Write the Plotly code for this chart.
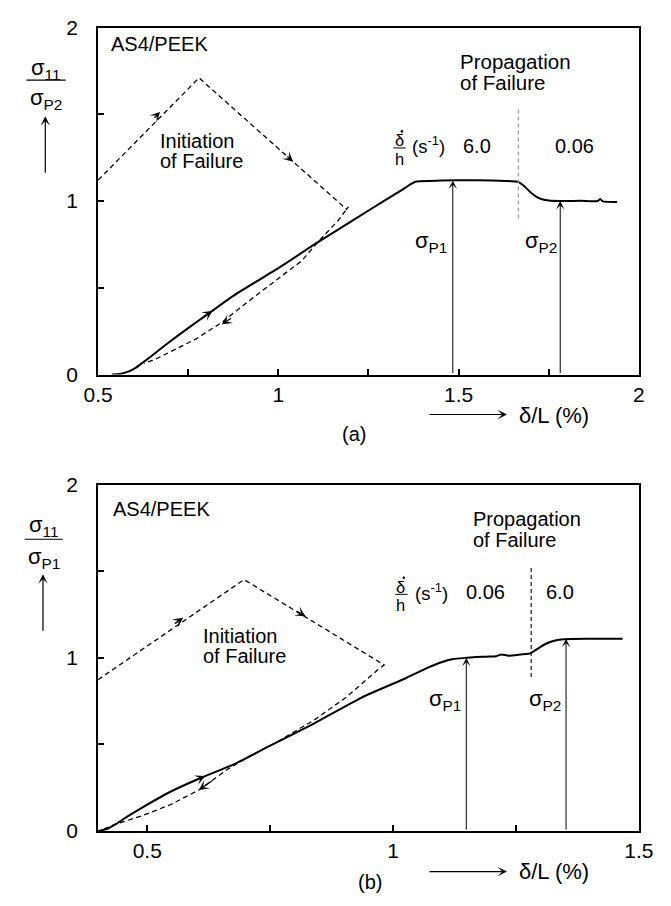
import plotly.graph_objects as go

W, H = 671, 906
FONT = "Liberation Sans, Arial, Helvetica, sans-serif"

# ---------------- data: panel (a) ----------------
a_solid_x = [0.538, 0.56, 0.587, 0.605, 0.622, 0.65, 0.693, 0.746, 0.812, 0.879, 1.011, 1.1, 1.2, 1.3,
             1.34, 1.365, 1.383, 1.45, 1.55, 1.63, 1.666, 1.68, 1.70, 1.72, 1.74, 1.78, 1.84, 1.885,
             1.893, 1.90, 1.94]
a_solid_y = [0.0, 0.003, 0.02, 0.04, 0.066, 0.11, 0.18, 0.262, 0.36, 0.459, 0.628, 0.75, 0.88, 1.01,
             1.06, 1.095, 1.113, 1.118, 1.12, 1.116, 1.11, 1.09, 1.05, 1.02, 1.006, 1.0, 1.002, 1.0,
             1.012, 0.998, 0.995]
a_dash_x = [0.5, 0.78, 1.189, 1.194, 1.166, 1.115, 1.064, 1.011, 0.975, 0.905, 0.843, 0.772, 0.711,
            0.657, 0.627]
a_dash_y = [1.121, 1.71, 0.953, 0.966, 0.888, 0.776, 0.654, 0.571, 0.515, 0.403, 0.30, 0.206, 0.142,
            0.086, 0.066]
a_rate_x = [1.666, 1.666]
a_rate_y = [0.9, 1.54]
a_peak_x = [1.484, 1.782]          # sigma_P1, sigma_P2
a_peak_y = [1.118, 1.0]
a_xticks = [0.5, 0.75, 1.0, 1.25, 1.5, 1.75, 2.0]
a_xtext = ["0.5", "", "1", "", "1.5", "", "2"]

# ---------------- data: panel (b) ----------------
b_solid_x = [0.40, 0.42, 0.436, 0.46, 0.488, 0.547, 0.605, 0.677, 0.748, 0.839, 0.936, 1.027, 1.07,
             1.10, 1.12, 1.146, 1.19, 1.21, 1.22, 1.235, 1.26, 1.279, 1.29, 1.31, 1.33, 1.347, 1.40,
             1.467]
b_solid_y = [0.0, 0.015, 0.04, 0.085, 0.133, 0.227, 0.302, 0.387, 0.49, 0.621, 0.771, 0.884, 0.942,
             0.976, 0.992, 1.0, 1.007, 1.01, 1.02, 1.013, 1.02, 1.026, 1.045, 1.08, 1.1, 1.108, 1.11,
             1.11]
b_dash_x = [0.40, 0.697, 0.982, 0.969, 0.904, 0.839, 0.80, 0.761, 0.709, 0.664, 0.605, 0.547, 0.488,
            0.436, 0.41]
b_dash_y = [0.874, 1.452, 0.959, 0.931, 0.771, 0.64, 0.575, 0.509, 0.434, 0.358, 0.237, 0.152, 0.087,
            0.04, 0.01]
b_rate_x = [1.281, 1.281]
b_rate_y = [0.89, 1.533]
b_peak_x = [1.149, 1.352]
b_peak_y = [1.0, 1.11]
b_xticks = [0.5, 0.75, 1.0, 1.25, 1.5]
b_xtext = ["0.5", "", "1", "", "1.5"]

yticks = [0, 0.5, 1, 1.5, 2]
ytext = ["0", "", "1", "", "2"]

# arrowheads along curves: (head x, head y, tail x, tail y)
a_curve_arrows = [(0.672, 1.514, 0.652, 1.472), (1.041, 1.227, 1.021, 1.264),
                  (0.843, 0.29, 0.873, 0.33), (0.817, 0.367, 0.787, 0.325)]
b_curve_arrows = [(0.573, 1.231, 0.553, 1.192), (0.822, 1.240, 0.802, 1.274),
                  (0.605, 0.237, 0.635, 0.297), (0.618, 0.318, 0.588, 0.280)]


def P(px, py):
    return px / W, 1 - py / H


fig = go.Figure()
solid = dict(color="black", width=2)
dash = dict(color="black", width=1.3, dash="5px,3.5px")

fig.add_trace(go.Scatter(x=a_dash_x, y=a_dash_y, mode="lines", line=dash, xaxis="x", yaxis="y"))
fig.add_trace(go.Scatter(x=a_solid_x, y=a_solid_y, mode="lines", line=dict(solid, shape="spline", smoothing=0.5),
                         xaxis="x", yaxis="y"))
fig.add_trace(go.Scatter(x=a_rate_x, y=a_rate_y, mode="lines",
                         line=dict(color="#999999", width=1.3, dash="4px,3px"), xaxis="x", yaxis="y"))
fig.add_trace(go.Scatter(x=b_dash_x, y=b_dash_y, mode="lines", line=dash, xaxis="x2", yaxis="y2"))
fig.add_trace(go.Scatter(x=b_solid_x, y=b_solid_y, mode="lines", line=dict(solid, shape="spline", smoothing=0.5),
                         xaxis="x2", yaxis="y2"))
fig.add_trace(go.Scatter(x=b_rate_x, y=b_rate_y, mode="lines",
                         line=dict(color="black", width=1.1, dash="4px,3px"), xaxis="x2", yaxis="y2"))

ann = []
shapes = []


def text(px, py, s, size=20, xanchor="center"):
    x, y = P(px, py)
    ann.append(dict(x=x, y=y, xref="paper", yref="paper", text=s, showarrow=False,
                    font=dict(size=size, color="black", family=FONT),
                    xanchor=xanchor, yanchor="middle"))


def line_px(x0, y0, x1, y1, w=1.2):
    a0, b0 = P(x0, y0)
    a1, b1 = P(x1, y1)
    shapes.append(dict(type="line", xref="paper", yref="paper", x0=a0, y0=b0, x1=a1, y1=b1,
                       line=dict(color="black", width=w)))


def dot_px(cx, cy, r=1.3):
    a0, b0 = P(cx - r, cy + r)
    a1, b1 = P(cx + r, cy - r)
    shapes.append(dict(type="circle", xref="paper", yref="paper", x0=a0, y0=b0, x1=a1, y1=b1,
                       fillcolor="black", line=dict(color="black", width=0)))


def data_arrow(hx, hy, tx, ty, xr, yr, width=1.3, size=1.3):
    ann.append(dict(x=hx, y=hy, ax=tx, ay=ty, xref=xr, yref=yr, axref=xr, ayref=yr, text="",
                    showarrow=True, arrowhead=3, arrowsize=size, arrowwidth=width,
                    arrowcolor="black", standoff=0))


def px_arrow(hx, hy, dx, dy):
    x, y = P(hx, hy)
    ann.append(dict(x=x, y=y, xref="paper", yref="paper", ax=dx, ay=dy, text="",
                    showarrow=True, arrowhead=3, arrowsize=1.3, arrowwidth=1.2,
                    arrowcolor="black", standoff=0))


# curve arrowheads
for hx, hy, tx, ty in a_curve_arrows:
    data_arrow(hx, hy, tx, ty, "x", "y")
for hx, hy, tx, ty in b_curve_arrows:
    data_arrow(hx, hy, tx, ty, "x2", "y2")
# peak arrows
for x, y in zip(a_peak_x, a_peak_y):
    data_arrow(x, y, x, 0, "x", "y", width=1, size=1.4)
for x, y in zip(b_peak_x, b_peak_y):
    data_arrow(x, y, x, 0, "x2", "y2", width=1, size=1.4)

# ---- panel (a) texts ----
text(98, 33, "AS4/PEEK", 20, "left")
text(464, 51, "Propagation", 20.5, "left")
text(464, 72, "of Failure", 20.5, "left")
text(150, 132, "Initiation", 20, "left")
text(150, 153, "of Failure", 20, "left")
text(402, 131.5, "δ", 16.5)
dot_px(405, 122.5)
line_px(396, 139.5, 409, 139.5, 1)
text(402, 150.5, "h", 16.5)
text(414, 136, "(s<sup>-1</sup>)", 18.5, "left")
text(484, 137, "6.0", 20)
text(586, 137, "0.06", 20)
text(417, 236, "σ<sub>P1</sub>", 22, "left")
text(532, 236, "σ<sub>P2</sub>", 22, "left")
# y label (a)
text(32, 58, "σ<sub>11</sub>", 22)
line_px(12, 70, 53, 70, 1.2)
text(32, 89, "σ<sub>P2</sub>", 22)
px_arrow(31.7, 107, 0, 58)
# x label (a)
text(525, 414, "δ/L (%)", 22, "left")
px_arrow(515, 413, -79, 0)
text(355, 433, "(a)", 20)

# ---- panel (b) texts ----
text(101, 510, "AS4/PEEK", 20, "left")
text(477, 520, "Propagation", 20, "left")
text(477, 541.5, "of Failure", 20, "left")
text(195, 640, "Initiation", 20, "left")
text(195, 661, "of Failure", 20, "left")
text(404, 589.5, "δ", 16.5)
dot_px(407, 580.5)
line_px(398, 597.5, 411, 597.5, 1)
text(404, 608.5, "h", 16.5)
text(417, 595, "(s<sup>-1</sup>)", 18.5, "left")
text(492, 595, "0.06", 20)
text(570, 595, "6.0", 20)
text(431, 706, "σ<sub>P1</sub>", 22, "left")
text(536, 706, "σ<sub>P2</sub>", 22, "left")
# y label (b)
text(30, 527, "σ<sub>11</sub>", 22)
line_px(10, 541, 50, 541, 1.2)
text(30, 560, "σ<sub>P1</sub>", 22)
px_arrow(29.3, 577, 0, 58)
# x label (b)
text(525, 882, "δ/L (%)", 22, "left")
px_arrow(515, 882, -79, 0)
text(372, 893, "(b)", 20)

axis_common = dict(showline=True, mirror=True, linecolor="black", linewidth=2, ticks="inside",
                   ticklen=6, tickwidth=1.5, tickcolor="black", showgrid=False, zeroline=False,
                   tickfont=dict(size=21, color="black", family=FONT))

fig.update_layout(
    width=W, height=H, margin=dict(l=0, r=0, t=0, b=0),
    paper_bgcolor="white", plot_bgcolor="white", showlegend=False,
    xaxis=dict(domain=[87 / W, 653 / W], range=[0.5, 2.0], anchor="y",
               tickmode="array", tickvals=a_xticks, ticktext=a_xtext, **axis_common),
    yaxis=dict(domain=[1 - 372 / H, 1 - 16 / H], range=[0, 2], anchor="x",
               tickmode="array", tickvals=yticks, ticktext=ytext, ticklabelstandoff=14, **axis_common),
    xaxis2=dict(domain=[87 / W, 653 / W], range=[0.4, 1.5], anchor="y2",
                tickmode="array", tickvals=b_xticks, ticktext=b_xtext, **axis_common),
    yaxis2=dict(domain=[1 - 840.4 / H, 1 - 485 / H], range=[0, 2], anchor="x2",
                tickmode="array", tickvals=yticks, ticktext=ytext, ticklabelstandoff=14, **axis_common),
    annotations=ann, shapes=shapes,
)

fig.write_html("out.html")
